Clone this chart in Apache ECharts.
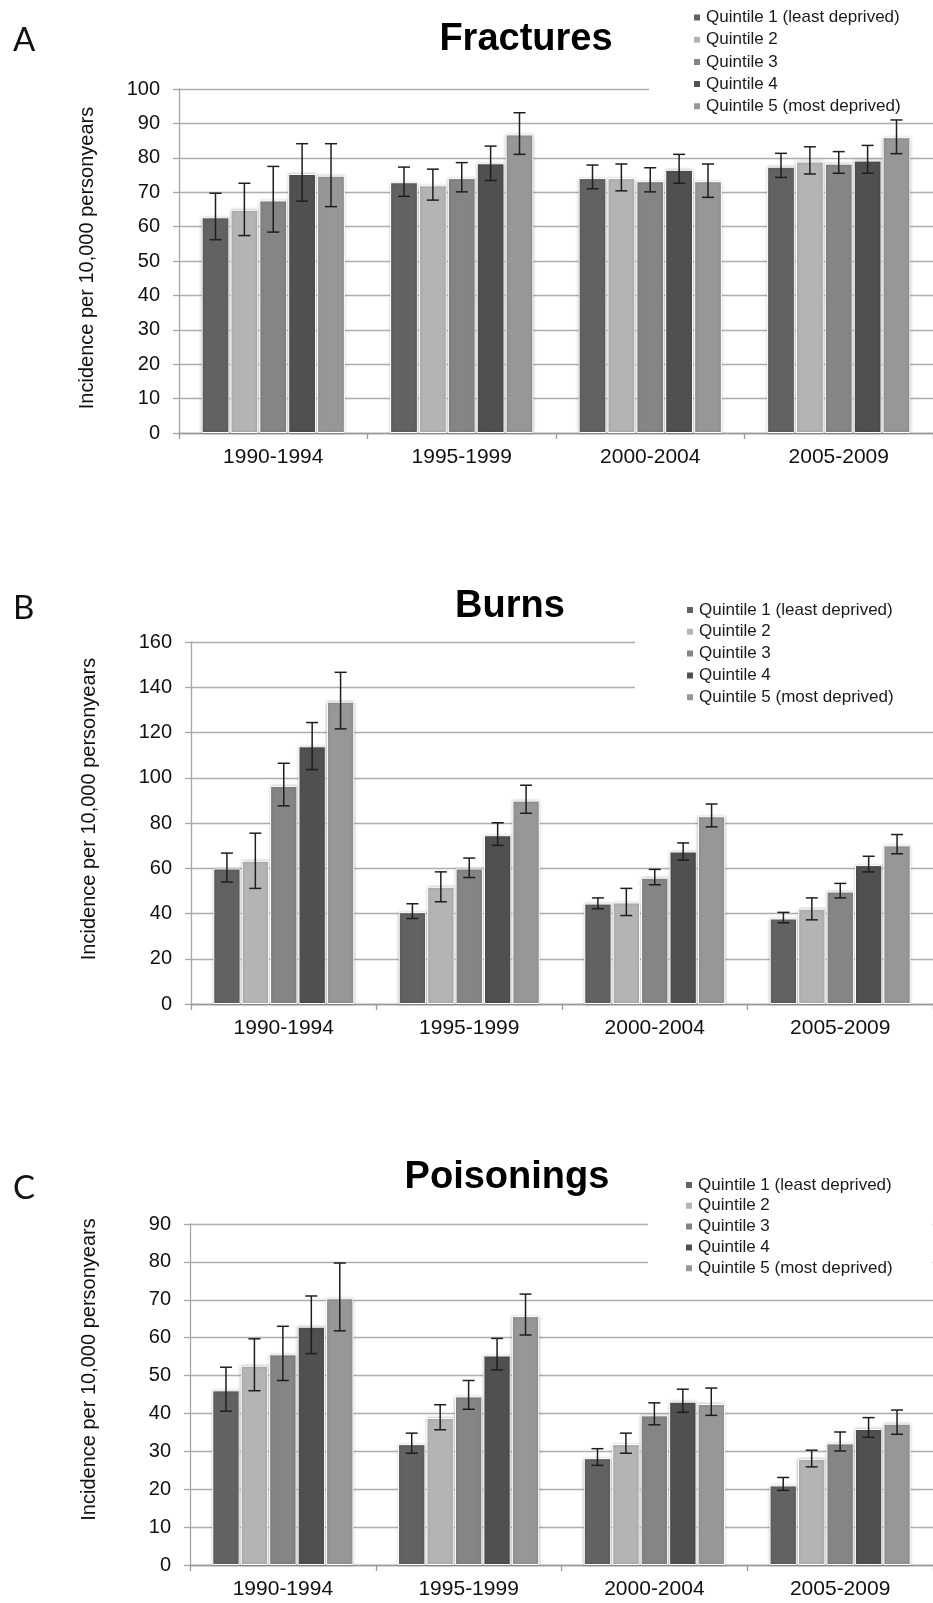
<!DOCTYPE html>
<html>
<head>
<meta charset="utf-8">
<script src="https://cdn.jsdelivr.net/npm/echarts@6/dist/echarts.min.js"></script>
<style>
  html, body { margin: 0; padding: 0; background: #fff; }
  #main { width: 933px; height: 1603px; }
</style>
</head>
<body>
<div id="main"></div>
<script>
// 数据
var periods = ['1990-1994', '1995-1999', '2000-2004', '2005-2009'];
var quintiles = ['Quintile 1 (least deprived)', 'Quintile 2', 'Quintile 3', 'Quintile 4', 'Quintile 5 (most deprived)'];

// A - Fractures (rows = quintile 1..5)
var fracMean = [[62.7, 72.9, 74.1, 77.4], [64.9, 72.0, 74.1, 78.9], [67.6, 74.1, 73.2, 78.3], [75.3, 78.4, 76.5, 79.2], [74.8, 86.8, 73.2, 86.0]];
var fracLow  = [[56.2, 68.8, 71.0, 74.3], [57.4, 67.7, 70.4, 75.3], [58.4, 70.1, 70.1, 75.5], [67.4, 73.4, 72.6, 75.5], [65.8, 81.0, 68.5, 81.2]];
var fracHigh = [[69.7, 77.3, 77.9, 81.3], [72.6, 76.7, 78.2, 83.2], [77.5, 78.6, 77.1, 81.8], [84.1, 83.4, 81.0, 83.6], [84.1, 93.1, 78.2, 91.0]];

// B - Burns
var burnMean = [[59.9, 40.6, 44.4, 37.8], [63.3, 51.8, 44.9, 42.1], [96.4, 59.9, 55.8, 49.7], [113.9, 74.6, 67.4, 61.4], [133.6, 89.9, 83.0, 70.1]];
var burnLow  = [[53.9, 37.8, 42.1, 35.9], [51.1, 45.2, 39.1, 37.2], [87.6, 55.9, 52.7, 46.9], [103.6, 70.1, 63.6, 58.4], [121.6, 84.3, 78.3, 66.4]];
var burnHigh = [[66.7, 44.3, 46.9, 40.5], [75.5, 58.4, 51.1, 46.9], [106.4, 64.5, 59.5, 53.3], [124.4, 80.1, 71.2, 65.3], [146.6, 96.7, 88.4, 74.9]];

// C - Poisonings
var poisMean = [[46.1, 31.9, 28.2, 21.0], [52.6, 38.8, 31.9, 28.0], [55.6, 44.5, 39.5, 32.1], [62.9, 55.3, 43.1, 35.9], [70.4, 65.7, 42.5, 37.3]];
var poisLow  = [[40.6, 29.5, 26.3, 19.7], [46.0, 35.7, 29.5, 25.9], [48.7, 41.1, 37.0, 30.1], [55.8, 51.5, 40.3, 33.7], [61.8, 60.7, 39.5, 34.5]];
var poisHigh = [[52.2, 34.8, 30.7, 23.1], [59.7, 42.3, 34.8, 30.3], [63.0, 48.7, 42.8, 35.1], [71.0, 59.8, 46.4, 38.9], [79.7, 71.5, 46.7, 40.9]];

var colors = ['#626262', '#b4b4b4', '#858585', '#505050', '#979797'];
var font = 'Liberation Sans, Arial, sans-serif';
var catGap = 0.24, barGap = 0.04;

// 三个面板的版式
var panels = [
    {letter: 'A', title: 'Fractures', mean: fracMean, low: fracLow, high: fracHigh,
        titleX: 526, titleY: 40, letterY: 40,
        grid: {left: 179, top: 89, width: 760, height: 344}, max: 100, interval: 10,
        nameGap: 82, namePad: 6,
        legend: {left: 649, top: 0, padding: [9, 50, 6, 43], itemGap: 5.2}},
    {letter: 'B', title: 'Burns', mean: burnMean, low: burnLow, high: burnHigh,
        titleX: 510, titleY: 607, letterY: 608,
        grid: {left: 191, top: 642, width: 750, height: 362}, max: 160, interval: 20,
        nameGap: 92, namePad: 28,
        legend: {left: 635, top: 590, padding: [11.5, 50, 10, 50], itemGap: 4.8}},
    {letter: 'C', title: 'Poisonings', mean: poisMean, low: poisLow, high: poisHigh,
        titleX: 507, titleY: 1178, letterY: 1188,
        grid: {left: 190, top: 1224, width: 748, height: 341}, max: 90, interval: 10,
        nameGap: 91, namePad: 50,
        legend: {left: 648, top: 1165, padding: [11.5, 40, 8, 36], itemGap: 3.8}}
];

function errorRenderer(q) {
    return function (params, api) {
        var xi = api.value(0);
        var lo = api.coord([xi, api.value(1)]);
        var hi = api.coord([xi, api.value(2)]);
        var band = api.size([1, 0])[0];
        var used = band * (1 - catGap);
        var bw = used / (5 + 4 * barGap);
        var x = lo[0] - used / 2 + bw / 2 + q * bw * (1 + barGap);
        var cap = 6;
        var style = {stroke: '#1e1e1e', lineWidth: 1.5};
        return {
            type: 'group',
            children: [
                {type: 'line', shape: {x1: x, y1: hi[1], x2: x, y2: lo[1]}, style: style},
                {type: 'line', shape: {x1: x - cap, y1: hi[1], x2: x + cap, y2: hi[1]}, style: style},
                {type: 'line', shape: {x1: x - cap, y1: lo[1], x2: x + cap, y2: lo[1]}, style: style}
            ]
        };
    };
}

var option = {
    backgroundColor: '#fff',
    animation: false,
    title: [],
    legend: [],
    grid: [],
    xAxis: [],
    yAxis: [],
    series: []
};

panels.forEach(function (p, pi) {
    option.title.push({
        text: p.title, left: p.titleX, top: p.titleY - 22, textAlign: 'center', padding: 0,
        textStyle: {fontFamily: font, fontSize: 38, fontWeight: 'bold', color: '#000', lineHeight: 44}
    });
    option.title.push({
        text: p.letter, left: 13, top: p.letterY - 18, padding: 0,
        textStyle: {fontFamily: 'Lato, Open Sans, sans-serif', fontSize: 33, fontWeight: 'normal', color: '#111', lineHeight: 36}
    });
    option.legend.push({
        orient: 'vertical', left: p.legend.left, top: p.legend.top, padding: p.legend.padding,
        itemGap: p.legend.itemGap, backgroundColor: '#fff', icon: 'rect', itemWidth: 8, itemHeight: 8,
        selectedMode: false, data: quintiles,
        textStyle: {fontFamily: font, fontSize: 17, color: '#1a1a1a', lineHeight: 17}
    });
    option.grid.push({left: p.grid.left, top: p.grid.top, width: p.grid.width, height: p.grid.height, containLabel: false});
    option.xAxis.push({
        type: 'category', gridIndex: pi, data: periods,
        axisLine: {lineStyle: {color: '#999', width: 1.3}},
        axisTick: {show: true, length: 6, lineStyle: {color: '#999', width: 1.3}},
        axisLabel: {fontFamily: font, fontSize: 21, color: '#111', margin: 14}
    });
    option.yAxis.push({
        type: 'value', gridIndex: pi, min: 0, max: p.max, interval: p.interval,
        name: 'Incidence per 10,000 personyears', nameLocation: 'middle', nameGap: p.nameGap,
        nameTextStyle: {fontFamily: font, fontSize: 20, color: '#111', padding: [0, 0, 0, p.namePad]},
        axisLine: {show: true, lineStyle: {color: '#a5a5a5', width: 1.3}},
        axisTick: {show: true, length: 6, lineStyle: {color: '#a5a5a5', width: 1.3}},
        axisLabel: {fontFamily: font, fontSize: 20, color: '#111', margin: 19},
        splitLine: {lineStyle: {color: '#adadad', width: 1.4}}
    });
    quintiles.forEach(function (name, q) {
        option.series.push({
            name: name, type: 'bar', xAxisIndex: pi, yAxisIndex: pi,
            data: p.mean[q],
            barCategoryGap: (catGap * 100) + '%', barGap: (barGap * 100) + '%',
            itemStyle: {color: colors[q], borderColor: '#fff', borderWidth: 1,
                shadowBlur: 3, shadowColor: 'rgba(0,0,0,0.25)'}
        });
    });
    quintiles.forEach(function (name, q) {
        var errData = p.mean[q].map(function (v, i) { return [i, p.low[q][i], p.high[q][i]]; });
        option.series.push({
            type: 'custom', xAxisIndex: pi, yAxisIndex: pi, z: 5,
            renderItem: errorRenderer(q),
            encode: {x: 0, y: [1, 2]},
            data: errData
        });
    });
});

var chart = echarts.init(document.getElementById('main'));
chart.setOption(option);
</script>
</body>
</html>
